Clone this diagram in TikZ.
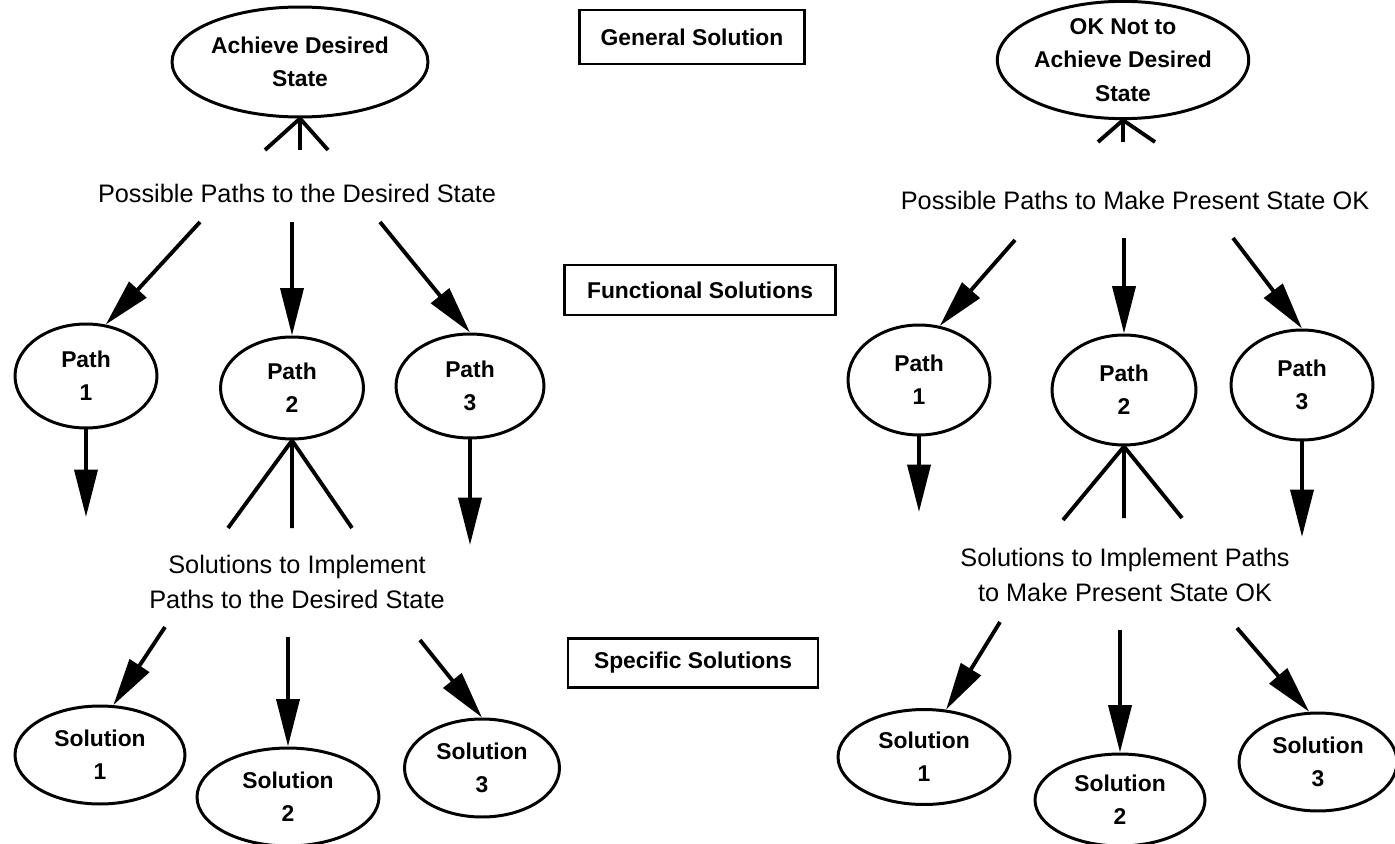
\documentclass[tikz,border=0pt]{standalone}
\usepackage{fontspec}
\setmainfont{Liberation Sans}
\usetikzlibrary{shapes.geometric,arrows.meta}

\begin{document}
\begin{tikzpicture}[x=0.02cm, y=-0.02cm, line width=2.2pt,
	oval/.style={ellipse, draw, line width=1.7pt, inner sep=0pt, align=center, font=\bfseries\fontsize{13}{19}\selectfont},
	heading/.style={draw, line width=1.4pt, inner sep=0pt, font=\bfseries\fontsize{13}{16}\selectfont},
	caption/.style={align=center, font=\fontsize{14.4}{20}\selectfont},
	arr/.style={-{Triangle[length=0.95cm, width=0.46cm]}}]
\useasboundingbox (0,0) rectangle (1395,844);

% middle column
\node[heading, minimum width=4.5cm, minimum height=1.08cm] (general) at (692,37) {General Solution};
\node[heading, minimum width=5.42cm, minimum height=1cm] (functional) at (700,290) {Functional Solutions};
\node[heading, minimum width=5cm, minimum height=0.98cm] (specific) at (693,663) {Specific Solutions};

% left tree
\node[oval, minimum width=5.12cm, minimum height=2.2cm] (goalA) at (300,62) {Achieve Desired\\State};
\node[caption] (lblA) at (297,193) {Possible Paths to the Desired State};
\node[oval, minimum width=2.84cm, minimum height=2.08cm] (p1) at (86,376) {Path\\1};
\node[oval, minimum width=2.86cm, minimum height=2.04cm] (p2) at (292,388) {Path\\2};
\node[oval, minimum width=2.96cm, minimum height=2.08cm] (p3) at (470,386) {Path\\3};
\node[caption] (lblC) at (297,582) {Solutions to Implement\\Paths to the Desired State};
\node[oval, minimum width=3.4cm, minimum height=1.96cm] (s1) at (100,755) {Solution\\1};
\node[oval, minimum width=3.64cm, minimum height=1.96cm] (s2) at (288,797) {Solution\\2};
\node[oval, minimum width=3.1cm, minimum height=1.96cm] (s3) at (482,768) {Solution\\3};

\coordinate (fa1) at (265,150);
\coordinate (fa2) at (300,150);
\coordinate (fa3) at (328,150);
\draw (goalA.south) -- (fa1) (goalA.south) -- (fa2) (goalA.south) -- (fa3);

\coordinate (a1) at (200,222);
\coordinate (a2) at (292,222);
\coordinate (a3) at (380,222);
\draw[arr] (a1) -- (p1.69);
\draw[arr] (a2) -- (p2.north);
\draw[arr] (a3) -- (p3.north);

\coordinate (d1) at (86,517);
\coordinate (d3) at (470,545);
\draw[arr] (p1.south) -- (d1);
\draw[arr] (p3.south) -- (d3);

\coordinate (fc1) at (228,528);
\coordinate (fc2) at (292,528);
\coordinate (fc3) at (352,528);
\draw (p2.south) -- (fc1) (p2.south) -- (fc2) (p2.south) -- (fc3);

\coordinate (b1) at (165,627);
\coordinate (b2) at (288,637);
\coordinate (b3) at (420,640);
\draw[arr] (b1) -- (s1.75);
\draw[arr] (b2) -- (s2.north);
\draw[arr] (b3) -- (s3.north);

% right tree
\node[oval, minimum width=4.6cm, minimum height=2.3cm] (goalB) at (1123,60) {OK Not to\\Achieve Desired\\State};
\node[caption] (lblB) at (1135,200) {Possible Paths to Make Present State OK};
\node[oval, minimum width=2.84cm, minimum height=2.2cm] (q1) at (919,380) {Path\\1};
\node[oval, minimum width=2.88cm, minimum height=2.2cm] (q2) at (1124,390) {Path\\2};
\node[oval, minimum width=2.84cm, minimum height=2.2cm] (q3) at (1302,385) {Path\\3};
\node[caption] (lblD) at (1125,575) {Solutions to Implement Paths\\to Make Present State OK};
\node[oval, minimum width=3.44cm, minimum height=1.9cm] (t1) at (924,757) {Solution\\1};
\node[oval, minimum width=3.4cm, minimum height=1.84cm] (t2) at (1120,800) {Solution\\2};
\node[oval, minimum width=3.16cm, minimum height=1.96cm] (t3) at (1318,762) {Solution\\3};

\coordinate (fb1) at (1098,142);
\coordinate (fb2) at (1123,142);
\coordinate (fb3) at (1155,142);
\draw (goalB.south) -- (fb1) (goalB.south) -- (fb2) (goalB.south) -- (fb3);

\coordinate (c1) at (1015,240);
\coordinate (c2) at (1124,238);
\coordinate (c3) at (1233,238);
\draw[arr] (c1) -- (q1.69);
\draw[arr] (c2) -- (q2.north);
\draw[arr] (c3) -- (q3.north);

\coordinate (e1) at (919,512);
\coordinate (e3) at (1302,537);
\draw[arr] (q1.south) -- (e1);
\draw[arr] (q3.south) -- (e3);

\coordinate (fd1) at (1063,520);
\coordinate (fd2) at (1124,518);
\coordinate (fd3) at (1182,518);
\draw (q2.south) -- (fd1) (q2.south) -- (fd2) (q2.south) -- (fd3);

\coordinate (g1) at (1000,622);
\coordinate (g2) at (1120,630);
\coordinate (g3) at (1237,628);
\draw[arr] (g1) -- (t1.65);
\draw[arr] (g2) -- (t2.north);
\draw[arr] (g3) -- (t3.100);
\end{tikzpicture}
\end{document}
